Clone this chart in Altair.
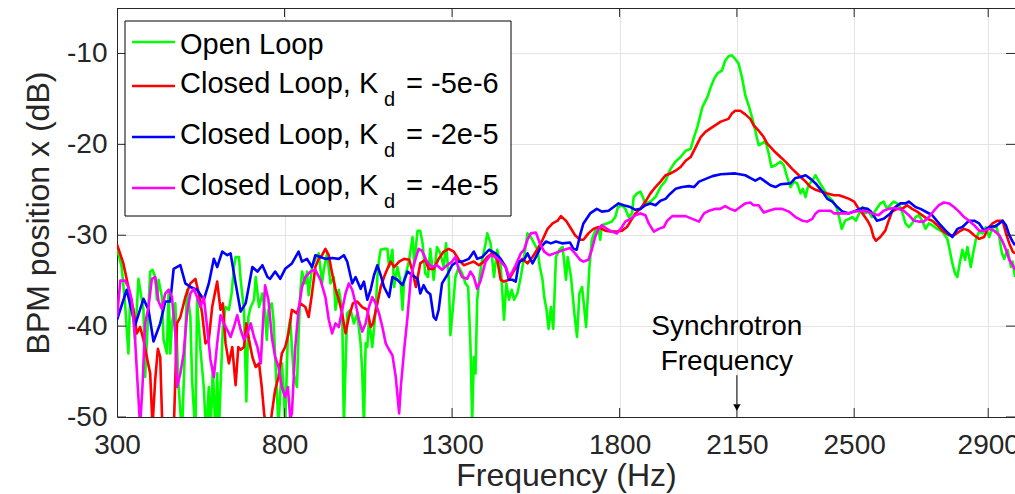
import altair as alt
import pandas as pd

# ---------------- data ----------------
green_freq = [300,304,314,324,334,339,349,354,364,374,379,384,394,399,406,414,419,424,434,439,449,454,459,464,474,484,494,504,509,519,524,534,539,549,559,566,574,579,586,594,599,604,609,616,624,634,642,649,654,664,669,679,686,692,699,709,714,724,734,742,747,752,762,767,772,782,792,797,802,810,817,827,837,842,847,852,862,867,872,882,892,902,912,917,927,937,947,952,962,972,977,982,987,997,1007,1017,1027,1032,1037,1042,1047,1052,1062,1072,1077,1082,1087,1097,1107,1112,1122,1127,1137,1147,1152,1157,1167,1172,1182,1187,1197,1205,1212,1220,1228,1235,1245,1255,1265,1275,1282,1290,1295,1302,1310,1320,1330,1340,1348,1355,1360,1365,1370,1375,1382,1390,1400,1405,1415,1425,1435,1445,1455,1462,1470,1478,1485,1495,1505,1515,1525,1535,1545,1555,1562,1570,1575,1582,1588,1595,1602,1610,1620,1630,1640,1645,1655,1665,1673,1680,1688,1695,1700,1710,1717,1727,1737,1742,1747,1762,1777,1787,1795,1807,1817,1827,1837,1842,1852,1862,1867,1877,1892,1907,1922,1937,1952,1967,1982,1997,2012,2022,2032,2047,2062,2072,2082,2092,2105,2115,2125,2135,2145,2155,2165,2175,2185,2195,2205,2215,2225,2235,2245,2253,2265,2280,2290,2300,2310,2320,2330,2340,2347,2355,2363,2375,2385,2395,2405,2420,2435,2447,2455,2463,2473,2485,2495,2505,2515,2525,2533,2543,2553,2563,2578,2588,2598,2608,2618,2628,2638,2648,2653,2663,2673,2683,2693,2703,2713,2723,2733,2748,2763,2778,2785,2793,2801,2808,2815,2823,2831,2838,2848,2855,2863,2873,2883,2893,2903,2911,2923,2933,2941,2948,2958,2968,2973,2980]
green_db = [-31.6,-32.0,-33.5,-37.5,-43.0,-37.1,-38.2,-41.5,-34.8,-37.1,-38.2,-45.6,-37.9,-34.0,-33.8,-34.6,-37.1,-34.9,-36.8,-41.5,-43.0,-36.0,-43.0,-39.7,-37.5,-46.7,-52.0,-40.8,-36.0,-39.0,-45.9,-52.0,-37.1,-42.6,-46.7,-52.0,-46.7,-52.0,-44.5,-52.0,-45.2,-52.0,-46.7,-40.1,-37.9,-38.2,-36.4,-33.5,-32.4,-32.4,-34.9,-38.2,-48.3,-39.0,-37.9,-37.1,-34.6,-37.9,-36.4,-38.6,-41.5,-38.2,-37.5,-39.3,-43.4,-51.0,-44.1,-46.7,-51.0,-40.8,-39.3,-45.2,-46.7,-40.8,-36.4,-34.0,-35.3,-34.0,-36.6,-33.5,-32.6,-32.0,-35.3,-33.8,-32.0,-35.3,-34.6,-38.2,-36.0,-38.2,-51.0,-44.5,-38.6,-38.2,-39.7,-38.6,-41.9,-45.2,-51.0,-41.9,-42.3,-39.3,-42.3,-38.2,-34.6,-32.7,-31.6,-31.5,-31.5,-33.5,-31.6,-35.7,-33.5,-35.3,-38.2,-34.9,-33.5,-32.7,-30.2,-33.1,-29.5,-29.5,-30.9,-34.2,-34.6,-31.5,-34.9,-31.3,-32.0,-33.5,-30.9,-34.6,-41.0,-38.2,-34.6,-33.5,-34.2,-35.3,-35.7,-42.3,-50.5,-43.4,-45.2,-37.1,-34.6,-32.7,-30.9,-29.8,-30.9,-34.6,-31.6,-33.3,-39.3,-35.3,-37.1,-36.0,-37.1,-36.4,-34.6,-32.4,-29.8,-30.2,-30.9,-31.6,-33.5,-34.9,-36.8,-38.2,-40.3,-37.9,-40.3,-32.4,-31.6,-31.3,-34.9,-32.4,-34.6,-38.6,-41.2,-36.4,-35.7,-38.2,-40.1,-33.5,-30.5,-29.5,-29.1,-30.5,-28.9,-28.7,-28.5,-28.0,-26.9,-26.7,-27.1,-28.0,-27.6,-25.8,-25.4,-25.2,-25.6,-26.5,-26.3,-25.8,-24.7,-24.0,-22.7,-21.9,-21.4,-20.7,-20.5,-19.2,-18.1,-15.9,-14.8,-13.7,-12.8,-12.2,-11.9,-10.8,-10.3,-10.2,-10.6,-11.1,-12.6,-14.6,-15.7,-17.0,-18.5,-20.1,-19.9,-19.6,-21.0,-22.5,-22.3,-21.9,-22.3,-23.6,-24.7,-24.1,-24.3,-25.4,-24.9,-25.8,-24.5,-24.0,-23.4,-24.1,-24.7,-25.6,-26.2,-26.9,-28.0,-29.3,-28.4,-28.2,-28.0,-28.4,-27.6,-26.9,-27.6,-27.4,-28.0,-27.3,-26.5,-26.3,-27.1,-26.7,-26.3,-26.5,-26.9,-28.0,-28.7,-29.1,-28.7,-28.0,-27.8,-28.4,-29.3,-28.7,-28.9,-29.3,-29.6,-30.4,-31.6,-33.1,-34.2,-34.6,-33.1,-31.6,-32.7,-31.3,-33.5,-32.0,-30.5,-29.6,-29.8,-29.1,-30.2,-29.3,-28.9,-30.2,-32.0,-32.6,-31.6,-33.5,-32.9,-34.6]

red_freq = [300,319,334,349,359,369,379,389,399,406,414,422,429,436,454,469,479,489,504,519,534,544,554,564,574,584,599,609,616,624,634,644,654,662,669,679,686,694,704,714,724,732,739,750,762,772,782,792,802,812,822,837,847,862,872,882,892,902,912,922,932,942,952,962,972,982,992,1004,1017,1032,1047,1057,1064,1077,1087,1097,1107,1117,1127,1142,1157,1172,1182,1192,1205,1220,1230,1245,1260,1275,1290,1305,1320,1335,1350,1365,1380,1395,1405,1420,1435,1445,1455,1470,1480,1495,1510,1525,1540,1555,1570,1585,1600,1615,1625,1640,1652,1667,1682,1692,1707,1722,1737,1757,1777,1792,1807,1822,1832,1847,1862,1877,1892,1907,1922,1937,1952,1967,1982,1997,2012,2027,2042,2057,2077,2102,2125,2135,2145,2160,2175,2190,2200,2215,2230,2240,2260,2280,2295,2315,2335,2355,2370,2385,2400,2420,2440,2455,2470,2485,2500,2510,2525,2540,2550,2558,2565,2578,2593,2603,2613,2628,2643,2658,2673,2688,2703,2718,2733,2748,2763,2783,2798,2813,2828,2843,2858,2873,2888,2898,2913,2928,2943,2953,2963,2973,2980]
red_db = [-31.0,-33.1,-35.7,-38.2,-40.8,-40.1,-41.5,-43.4,-45.2,-51.0,-45.9,-42.5,-43.4,-52.0,-53.0,-52.0,-39.7,-39.0,-36.8,-35.3,-34.8,-36.4,-38.6,-41.9,-41.5,-37.9,-35.1,-38.2,-37.5,-41.9,-44.1,-42.3,-46.5,-42.3,-42.6,-42.3,-39.7,-41.5,-43.4,-44.5,-44.1,-46.7,-49.6,-53.0,-49.6,-47.0,-45.6,-43.0,-42.3,-40.8,-38.2,-38.6,-37.5,-37.9,-39.0,-36.4,-33.5,-32.6,-32.2,-31.5,-32.2,-34.2,-35.9,-37.1,-38.6,-40.8,-39.0,-37.5,-37.3,-37.9,-38.2,-40.1,-39.7,-37.5,-35.7,-34.6,-33.7,-32.9,-33.5,-32.9,-32.6,-32.7,-34.0,-35.7,-33.1,-32.7,-33.7,-33.7,-32.6,-31.8,-31.5,-31.8,-32.7,-33.3,-33.1,-32.9,-33.3,-32.9,-32.4,-32.0,-32.7,-34.9,-35.1,-34.9,-34.2,-33.3,-32.6,-33.1,-32.4,-31.5,-30.5,-29.3,-28.7,-28.4,-27.9,-28.4,-29.1,-30.0,-30.5,-30.5,-29.8,-29.3,-29.1,-29.5,-29.6,-29.6,-29.5,-29.1,-28.5,-27.6,-27.1,-26.3,-25.4,-24.7,-24.1,-23.4,-23.2,-22.9,-22.5,-21.8,-21.4,-20.3,-19.2,-18.6,-18.1,-17.5,-17.2,-16.6,-16.3,-16.3,-16.7,-17.2,-17.9,-18.5,-19.2,-19.9,-20.7,-21.4,-21.9,-22.7,-23.4,-24.1,-24.7,-25.0,-25.2,-25.4,-25.6,-25.6,-25.8,-26.0,-26.3,-26.9,-27.6,-28.4,-29.1,-30.2,-30.6,-30.2,-29.5,-28.4,-27.4,-27.1,-27.1,-26.7,-27.1,-27.4,-27.8,-28.2,-28.4,-28.9,-29.5,-30.0,-30.0,-29.6,-29.3,-29.5,-30.0,-30.4,-30.2,-29.3,-28.7,-28.4,-28.4,-29.8,-30.9,-31.8,-32.0]

blue_freq = [300,329,354,379,394,409,429,444,459,469,489,504,519,539,559,574,589,599,614,629,639,654,669,684,704,719,734,749,757,772,787,802,822,842,852,867,882,892,907,922,942,962,977,987,1002,1012,1027,1037,1047,1057,1067,1077,1087,1097,1112,1122,1137,1152,1167,1182,1197,1205,1215,1225,1235,1245,1252,1260,1270,1285,1300,1315,1330,1350,1365,1375,1390,1410,1430,1445,1460,1470,1480,1490,1500,1515,1525,1540,1550,1565,1580,1595,1610,1630,1652,1662,1672,1682,1692,1712,1732,1747,1767,1782,1797,1812,1832,1847,1862,1877,1892,1907,1922,1937,1952,1967,1987,2007,2022,2037,2057,2077,2102,2145,2175,2195,2205,2220,2235,2250,2265,2280,2310,2325,2340,2355,2370,2385,2405,2420,2435,2450,2465,2485,2505,2525,2540,2550,2568,2588,2608,2623,2638,2653,2663,2683,2698,2718,2733,2753,2773,2793,2808,2823,2843,2858,2873,2888,2903,2923,2943,2953,2963,2973,2980]
blue_db = [-39.3,-36.0,-39.9,-37.0,-38.2,-41.7,-39.7,-37.3,-37.3,-33.7,-33.3,-35.3,-35.7,-36.0,-37.1,-35.3,-32.6,-33.5,-31.8,-32.2,-32.0,-35.3,-38.4,-37.5,-33.5,-34.0,-33.3,-34.6,-34.8,-34.0,-34.8,-33.7,-33.1,-31.8,-32.9,-32.6,-33.5,-32.2,-32.4,-32.6,-32.5,-32.6,-32.2,-32.9,-35.3,-34.6,-35.9,-35.1,-37.1,-36.0,-34.4,-33.3,-34.4,-35.7,-36.8,-34.6,-34.9,-35.5,-34.0,-34.4,-34.8,-36.4,-35.5,-36.2,-36.5,-39.0,-39.3,-38.2,-35.3,-34.4,-33.3,-32.9,-32.9,-32.6,-31.8,-32.6,-32.4,-31.6,-32.0,-32.6,-33.5,-34.9,-34.9,-35.1,-32.9,-32.7,-32.0,-33.1,-32.4,-31.3,-30.7,-30.9,-30.7,-30.9,-30.8,-31.5,-31.6,-30.0,-28.7,-27.6,-27.1,-27.4,-27.3,-26.9,-26.5,-26.7,-26.9,-27.2,-27.1,-26.7,-26.5,-26.7,-26.2,-26.0,-25.4,-24.9,-24.7,-24.6,-24.7,-24.1,-23.8,-23.5,-23.3,-23.2,-23.4,-23.8,-24.0,-23.7,-24.1,-24.5,-24.7,-24.4,-24.3,-23.7,-23.6,-23.4,-23.8,-24.3,-25.2,-26.0,-26.3,-26.9,-27.4,-27.6,-27.3,-27.0,-27.1,-27.4,-28.4,-28.2,-27.6,-26.9,-26.5,-26.5,-26.3,-26.9,-27.1,-27.5,-27.8,-28.7,-29.5,-30.2,-29.3,-29.1,-28.4,-28.4,-28.7,-29.5,-29.1,-29.0,-28.4,-28.9,-30.0,-30.7,-31.1]

magenta_freq = [300,310,324,334,344,354,362,369,376,384,394,404,414,424,434,444,454,464,474,479,489,499,509,519,529,539,549,559,569,579,589,599,609,619,629,639,649,659,669,679,689,699,709,719,729,734,742,752,762,772,782,792,802,810,817,822,832,842,852,862,877,892,907,922,932,942,952,962,972,982,992,1002,1012,1022,1032,1042,1052,1062,1072,1082,1092,1102,1112,1122,1132,1142,1147,1157,1167,1177,1187,1200,1210,1225,1240,1255,1270,1285,1300,1310,1320,1330,1345,1355,1365,1375,1385,1400,1415,1430,1445,1460,1470,1480,1490,1505,1515,1525,1535,1550,1562,1575,1590,1605,1620,1635,1652,1667,1682,1692,1707,1717,1727,1737,1747,1762,1777,1792,1807,1817,1832,1847,1862,1877,1887,1902,1917,1932,1942,1957,1977,1997,2017,2037,2052,2067,2087,2100,2115,2130,2145,2160,2175,2190,2200,2215,2230,2245,2265,2285,2305,2325,2345,2360,2375,2385,2395,2415,2430,2440,2460,2480,2500,2520,2540,2553,2573,2588,2603,2618,2633,2648,2663,2678,2693,2708,2723,2738,2753,2768,2783,2798,2813,2828,2843,2858,2873,2888,2903,2918,2933,2943,2953,2963,2973,2980]
magenta_db = [-39.0,-35.0,-35.0,-35.7,-37.1,-41.5,-46.7,-51.0,-46.7,-39.7,-37.9,-34.8,-34.6,-37.3,-38.1,-36.4,-36.0,-36.8,-40.8,-46.7,-45.2,-43.0,-38.6,-36.4,-35.9,-36.8,-37.9,-36.8,-40.1,-43.7,-45.6,-41.9,-38.8,-39.7,-40.4,-41.2,-40.1,-38.8,-40.4,-41.5,-40.8,-39.7,-41.2,-42.3,-44.1,-40.8,-35.5,-37.1,-41.2,-43.4,-44.5,-46.7,-47.8,-46.7,-50.2,-49.6,-42.3,-38.2,-35.7,-34.6,-34.0,-33.8,-34.9,-36.8,-39.3,-40.8,-39.7,-40.1,-38.2,-36.4,-35.3,-36.0,-37.5,-39.3,-40.6,-39.7,-37.9,-36.8,-37.5,-38.6,-40.1,-41.9,-42.6,-43.2,-45.6,-49.6,-46.7,-42.6,-39.0,-34.6,-33.1,-31.5,-31.7,-32.9,-33.5,-33.3,-33.8,-33.3,-32.9,-32.4,-33.8,-34.6,-34.8,-34.0,-34.6,-35.9,-35.0,-32.9,-32.2,-32.4,-32.9,-33.5,-34.6,-34.0,-33.3,-32.0,-31.6,-30.5,-29.8,-29.7,-30.9,-31.8,-32.2,-32.0,-31.8,-31.6,-31.4,-32.0,-32.7,-32.9,-32.7,-31.6,-30.2,-29.3,-28.9,-29.3,-29.6,-29.8,-29.1,-28.5,-28.2,-27.8,-27.6,-27.8,-28.7,-29.6,-29.3,-29.1,-28.4,-27.9,-27.9,-27.9,-28.2,-28.5,-27.6,-27.3,-27.1,-27.1,-26.8,-27.1,-27.3,-26.9,-26.5,-26.4,-26.7,-26.7,-27.5,-27.3,-27.1,-27.1,-27.4,-28.0,-28.4,-28.5,-28.2,-27.6,-27.3,-27.3,-27.3,-27.6,-27.6,-27.6,-27.4,-27.3,-27.4,-27.6,-27.8,-27.3,-27.1,-27.0,-27.1,-27.3,-27.8,-28.4,-28.5,-28.5,-28.0,-27.3,-26.7,-26.4,-26.5,-26.9,-27.4,-28.0,-28.4,-28.9,-29.5,-29.5,-29.3,-29.5,-30.0,-30.7,-31.6,-32.7,-33.3,-33.8]

series_names = ["Open Loop", "Closed Loop, K", "Closed Loop, K", "Closed Loop, K"]
series_sub = ["", "d", "d", "d"]
series_rest = ["", "= -5e-6", "= -2e-5", "= -4e-5"]
series_colors = ["#00ff00", "#ff0000", "#0000ff", "#ff00ff"]

x_ticks = [300, 800, 1300, 1800, 2150, 2500, 2900]
y_ticks = [-50, -40, -30, -20, -10]
x_domain = [300, 2980]
y_domain = [-50, -5]

annot_lines = ["Synchrotron", "Frequency"]
annot_freq = 2150

# ---------------- styling ----------------
FONT = "Liberation Sans"
AX = "#262626"
W, H = 898, 409

xs = alt.Scale(domain=x_domain, nice=False, zero=False)
ys = alt.Scale(domain=y_domain, nice=False, zero=False)

x_axis = alt.Axis(values=x_ticks, title="Frequency (Hz)", labelExpr="'' + datum.value",
                  grid=True, gridColor="#e3e3e3", gridWidth=1, tickSize=0,
                  domainColor=AX, domainWidth=1, labelFont=FONT, labelFontSize=28,
                  labelColor=AX, labelPadding=14, titleFont=FONT, titleFontSize=32,
                  titleFontWeight="normal", titleColor=AX, titlePadding=1,
                  labelFlush=False, labelOverlap=False)
y_axis = alt.Axis(values=y_ticks, title="BPM position x (dB)", labelExpr="'' + datum.value",
                  grid=True, gridColor="#e3e3e3", gridWidth=1, tickSize=0,
                  domainColor=AX, domainWidth=1, labelFont=FONT, labelFontSize=28,
                  labelColor=AX, labelPadding=10, titleFont=FONT, titleFontSize=32,
                  titleFontWeight="normal", titleColor=AX, titlePadding=11,
                  labelFlush=False, labelOverlap=False)

X = alt.X("f:Q", scale=xs, axis=x_axis)
Y = alt.Y("db:Q", scale=ys, axis=y_axis)

layers = []

# data lines, drawn in plotting order
for fr, db, col in [(green_freq, green_db, series_colors[0]),
                    (red_freq, red_db, series_colors[1]),
                    (blue_freq, blue_db, series_colors[2]),
                    (magenta_freq, magenta_db, series_colors[3])]:
    df = pd.DataFrame({"f": fr, "db": db})
    layers.append(alt.Chart(df).mark_line(color=col, strokeWidth=2.6, clip=True,
                                          strokeJoin="round").encode(x=X, y=Y))

# inward ticks (MATLAB box style)
xt = pd.DataFrame({"f": x_ticks})
yt = pd.DataFrame({"db": y_ticks})
for yv in [0, H]:
    layers.append(alt.Chart(xt).mark_tick(orient="vertical", size=18, thickness=1,
                                          color=AX, clip=True, opacity=1)
                  .encode(x=X, y=alt.value(yv)))
for xv in [0, W]:
    layers.append(alt.Chart(yt).mark_tick(orient="horizontal", size=18, thickness=1,
                                          color=AX, clip=True, opacity=1)
                  .encode(y=Y, x=alt.value(xv)))

one = pd.DataFrame({"k": [0]})
# top border
layers.append(alt.Chart(one).mark_rule(color=AX, strokeWidth=1)
              .encode(x=alt.value(0), x2=alt.value(W), y=alt.value(0.5)))

# annotation
ann = pd.DataFrame({"f": [annot_freq - 30, annot_freq - 30], "db": [-40.1, -43.9],
                    "t": annot_lines})
layers.append(alt.Chart(ann).mark_text(font=FONT, fontSize=28, color="black",
                                       align="center", baseline="middle")
              .encode(x=X, y=Y, text="t:N"))
arrow = pd.DataFrame({"f": [annot_freq], "db": [-45.4], "db2": [-48.6]})
layers.append(alt.Chart(arrow).mark_rule(color="black", strokeWidth=1)
              .encode(x=X, y=Y, y2="db2:Q"))
head = pd.DataFrame({"f": [annot_freq], "db": [-48.95]})
layers.append(alt.Chart(head).mark_point(shape="triangle-down", filled=True, size=55,
                                         color="black", opacity=1)
              .encode(x=X, y=Y))

# legend box
layers.append(alt.Chart(one).mark_rect(fill="white", stroke="black", strokeWidth=1)
              .encode(x=alt.value(8), x2=alt.value(394), y=alt.value(13), y2=alt.value(208)))
row_line_y = [34, 78, 129, 180]
row_base_y = [45.5, 85, 135.5, 187]
for i in range(4):
    layers.append(alt.Chart(one).mark_rule(color=series_colors[i], strokeWidth=2.6)
                  .encode(x=alt.value(15), x2=alt.value(58), y=alt.value(row_line_y[i])))
    layers.append(alt.Chart(one).mark_text(font=FONT, fontSize=29, color="black",
                                           align="left", baseline="alphabetic",
                                           text=series_names[i])
                  .encode(x=alt.value(63), y=alt.value(row_base_y[i])))
    if series_sub[i]:
        layers.append(alt.Chart(one).mark_text(font=FONT, fontSize=20, color="black",
                                               align="left", baseline="alphabetic",
                                               text=series_sub[i])
                      .encode(x=alt.value(267), y=alt.value(row_base_y[i] + 13)))
        layers.append(alt.Chart(one).mark_text(font=FONT, fontSize=29, color="black",
                                               align="left", baseline="alphabetic",
                                               text=series_rest[i])
                      .encode(x=alt.value(289), y=alt.value(row_base_y[i])))

chart = alt.layer(*layers).properties(
    width=W, height=H,
    autosize=alt.AutoSizeParams(type="none"),
    padding={"left": 117, "top": 8, "right": 0, "bottom": 77},
    background="white",
).configure_view(stroke=None)

chart.save("out.html", embed_options={"renderer": "svg", "actions": False})
